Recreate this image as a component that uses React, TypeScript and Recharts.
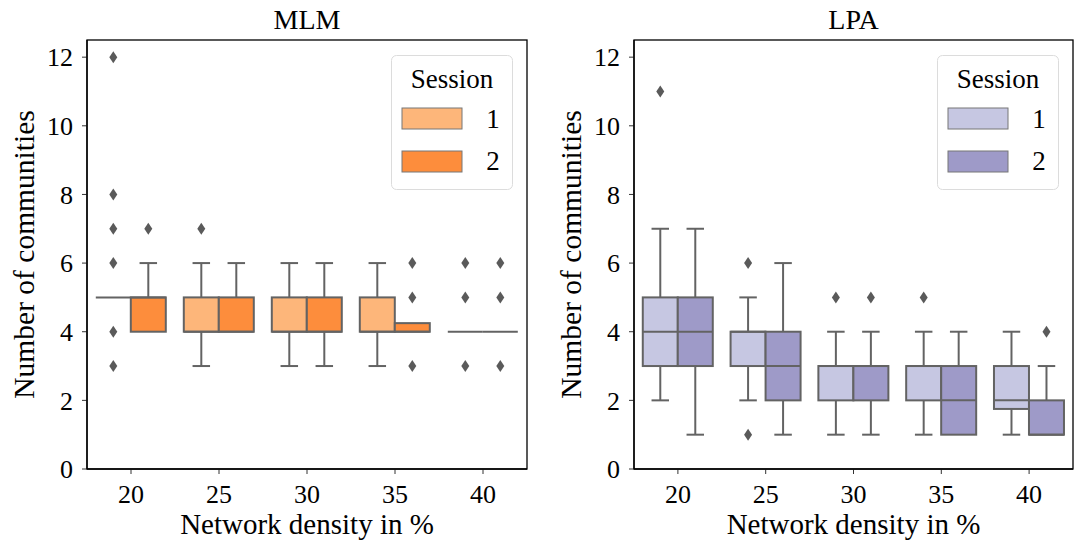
import { BarChart, Bar, XAxis, YAxis } from "recharts";

const FONT = '"Liberation Serif", "DejaVu Serif", serif';
const EDGE = "#636363";

const densities = ["20", "25", "30", "35", "40"];

// [whisker low, q1, median, q3, whisker high]
const mlmSession1 = [
  [5, 5, 5, 5, 5],
  [3, 4, 4, 5, 6],
  [3, 4, 4, 5, 6],
  [3, 4, 4, 5, 6],
  [4, 4, 4, 4, 4],
];
const mlmSession2 = [
  [4, 4, 5, 5, 6],
  [4, 4, 4, 5, 6],
  [3, 4, 4, 5, 6],
  [4, 4, 4, 4.25, 4.25],
  [4, 4, 4, 4, 4],
];
const mlmFliers1 = [[3, 4, 6, 7, 8, 12], [7], [], [], [3, 5, 6]];
const mlmFliers2 = [[7], [], [], [3, 5, 6], [3, 5, 6]];

const lpaSession1 = [
  [2, 3, 4, 5, 7],
  [2, 3, 4, 4, 5],
  [1, 2, 3, 3, 4],
  [1, 2, 3, 3, 4],
  [1, 1.75, 2, 3, 4],
];
const lpaSession2 = [
  [1, 3, 4, 5, 7],
  [1, 2, 3, 4, 6],
  [1, 2, 3, 3, 4],
  [1, 1, 2, 3, 4],
  [1, 1, 1, 2, 3],
];
const lpaFliers1 = [[11], [1, 6], [5], [5], []];
const lpaFliers2 = [[], [], [5], [], [4]];

const mlmColors = ["#fdb67a", "#fd8d3c"];
const lpaColors = ["#c6c7e2", "#9e9ac8"];
const sessions = ["1", "2"];
const yTicks = [0, 2, 4, 6, 8, 10, 12];

type BoxStat = { stats: number[]; fliers: number[] };

function extent(b: BoxStat): [number, number] {
  return [Math.min(b.stats[0], ...b.fliers), Math.max(b.stats[4], ...b.fliers)];
}

function buildRows(s1: number[][], s2: number[][], f1: number[][], f2: number[][]) {
  return densities.map((d, i) => ({
    density: d,
    s1: { stats: s1[i], fliers: f1[i] },
    s2: { stats: s2[i], fliers: f2[i] },
  }));
}

const mlmRows = buildRows(mlmSession1, mlmSession2, mlmFliers1, mlmFliers2);
const lpaRows = buildRows(lpaSession1, lpaSession2, lpaFliers1, lpaFliers2);

// range bar [lo, hi] gives the pixel scale; box, whiskers and fliers drawn from it
function makeBoxShape(key: "s1" | "s2", fill: string) {
  return (props: any) => {
    const { x, y, width, height, payload } = props;
    const b: BoxStat = payload[key];
    const [lo, hi] = extent(b);
    const top = Math.min(y, y + height);
    const k = Math.abs(height) / (hi - lo);
    const py = (v: number) => top + (hi - v) * k;
    const [wl, q1, med, q3, wh] = b.stats;
    const cx = x + width / 2;
    const cap = width / 4;
    return (
      <g>
        {b.fliers.map((f, i) => (
          <polygon
            key={i}
            points={`${cx},${py(f) - 6} ${cx + 4},${py(f)} ${cx},${py(f) + 6} ${cx - 4},${py(f)}`}
            fill="#5a5a5a"
          />
        ))}
        {wh > q3 && (
          <g stroke={EDGE} strokeWidth={2}>
            <line x1={cx} x2={cx} y1={py(q3)} y2={py(wh)} />
            <line x1={cx - cap} x2={cx + cap} y1={py(wh)} y2={py(wh)} />
          </g>
        )}
        {wl < q1 && (
          <g stroke={EDGE} strokeWidth={2}>
            <line x1={cx} x2={cx} y1={py(q1)} y2={py(wl)} />
            <line x1={cx - cap} x2={cx + cap} y1={py(wl)} y2={py(wl)} />
          </g>
        )}
        <rect
          x={x}
          y={py(q3)}
          width={width}
          height={Math.max(py(q1) - py(q3), 0)}
          fill={fill}
          stroke={EDGE}
          strokeWidth={2}
        />
        <line x1={x} x2={x + width} y1={py(med)} y2={py(med)} stroke={EDGE} strokeWidth={2} />
      </g>
    );
  };
}

function SerifText(props: any) {
  const { children, ...rest } = props;
  return (
    <text fill="#000" fontFamily={FONT} {...rest}>
      {children}
    </text>
  );
}

function XTick(props: any) {
  return (
    <SerifText x={props.x} y={props.y} dy="0.71em" textAnchor="middle" fontSize={26}>
      {props.payload.value}
    </SerifText>
  );
}

function YTick(props: any) {
  return (
    <SerifText x={props.x} y={props.y} dy="0.355em" textAnchor="end" fontSize={26}>
      {props.payload.value}
    </SerifText>
  );
}

function XLabel(props: any) {
  const vb = props.viewBox || {};
  return (
    <SerifText x={vb.x + vb.width / 2} y={534} textAnchor="middle" fontSize={29}>
      Network density in %
    </SerifText>
  );
}

function YLabel(props: any) {
  const vb = props.viewBox || {};
  const lx = vb.x + 7;
  const ly = vb.y + vb.height / 2;
  return (
    <SerifText x={lx} y={ly} transform={`rotate(-90, ${lx}, ${ly})`} textAnchor="middle" fontSize={29.5}>
      Number of communities
    </SerifText>
  );
}

function Panel(p: {
  left: number;
  width: number;
  plotLeft: number;
  plotRight: number;
  title: string;
  rows: any[];
  colors: string[];
}) {
  const legendLeft = p.plotRight - 136;
  return (
    <div style={{ position: "absolute", left: p.left, top: 0, width: p.width, height: 544 }}>
      <BarChart
        width={p.width}
        height={544}
        data={p.rows}
        margin={{ top: 40, right: p.width - p.plotRight, bottom: 0, left: p.plotLeft - 60 }}
        barCategoryGap="10%"
        barGap={0}
      >
        <XAxis
          dataKey="density"
          height={75}
          tickSize={5}
          tickMargin={11}
          tick={<XTick />}
          tickLine={{ stroke: "#333" }}
          axisLine={{ stroke: "#000", strokeWidth: 1.3 }}
          label={<XLabel />}
        />
        <YAxis
          type="number"
          width={60}
          domain={[0, 12.5]}
          ticks={yTicks}
          allowDataOverflow
          tickSize={5}
          tickMargin={9}
          tick={<YTick />}
          tickLine={{ stroke: "#333" }}
          axisLine={{ stroke: "#000", strokeWidth: 1.3 }}
          label={<YLabel />}
        />
        <Bar
          name={sessions[0]}
          dataKey={(r: any) => extent(r.s1)}
          shape={makeBoxShape("s1", p.colors[0])}
          isAnimationActive={false}
        />
        <Bar
          name={sessions[1]}
          dataKey={(r: any) => extent(r.s2)}
          shape={makeBoxShape("s2", p.colors[1])}
          isAnimationActive={false}
        />
      </BarChart>
      <svg
        width={p.width}
        height={544}
        style={{ position: "absolute", left: 0, top: 0, pointerEvents: "none" }}
        fontFamily={FONT}
      >
        <rect
          x={p.plotLeft}
          y={40}
          width={p.plotRight - p.plotLeft}
          height={429}
          fill="none"
          stroke="#000"
          strokeWidth={1.3}
        />
        <text x={(p.plotLeft + p.plotRight) / 2} y={29} textAnchor="middle" fontSize={28} fill="#000">
          {p.title}
        </text>
        <g transform={`translate(${legendLeft}, 55)`}>
          <rect x={0.5} y={0.5} width={121} height={134} rx={5} fill="#fff" fillOpacity={0.85} stroke="#dcdcdc" />
          <text x={61} y={33} textAnchor="middle" fontSize={27} fill="#000">
            Session
          </text>
          {sessions.map((s, i) => (
            <g key={s}>
              <rect x={11} y={53 + i * 43} width={60} height={21} fill={p.colors[i]} stroke="#777" strokeWidth={1} />
              <text x={102} y={73 + i * 42} textAnchor="middle" fontSize={27} fill="#000">
                {s}
              </text>
            </g>
          ))}
        </g>
      </svg>
    </div>
  );
}

export default function App() {
  return (
    <div style={{ position: "absolute", left: 0, top: 0, width: 1075, height: 544, background: "#fff" }}>
      <Panel left={0} width={540} plotLeft={87} plotRight={527} title="MLM" rows={mlmRows} colors={mlmColors} />
      <Panel left={540} width={535} plotLeft={94} plotRight={533} title="LPA" rows={lpaRows} colors={lpaColors} />
    </div>
  );
}
